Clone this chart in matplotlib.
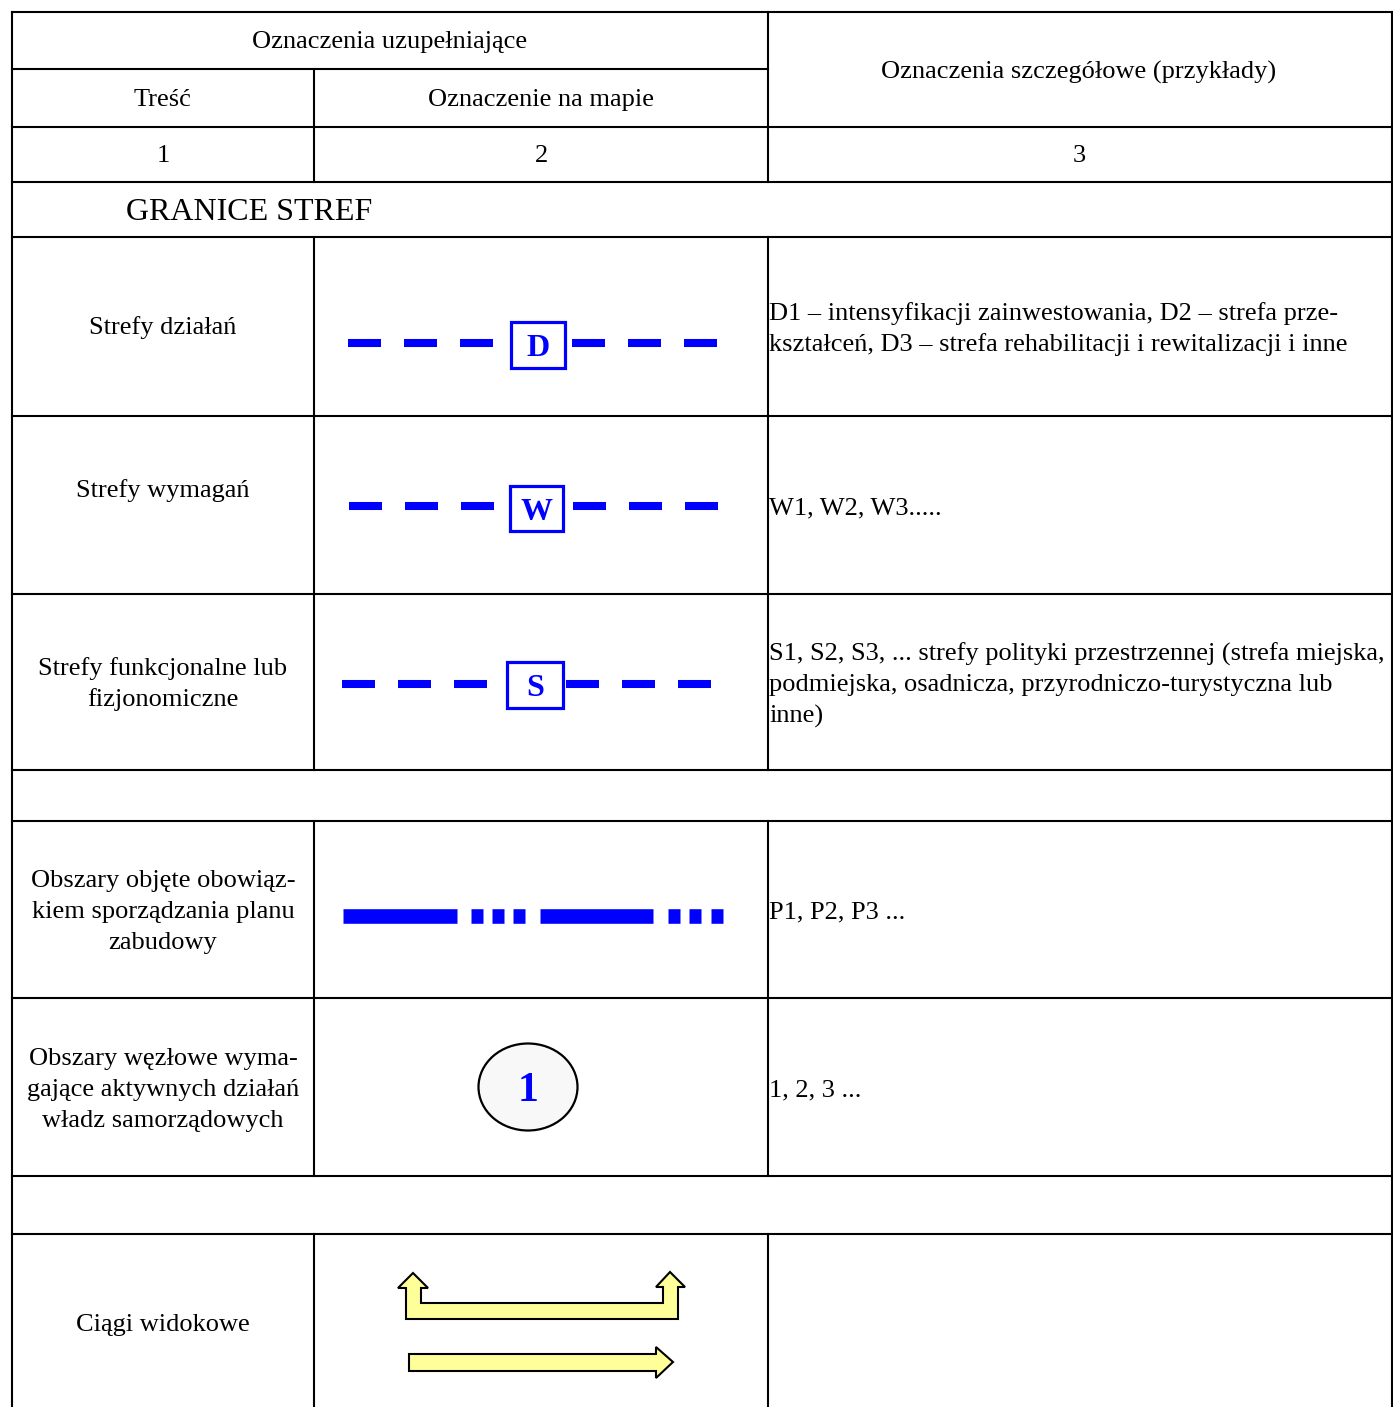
import matplotlib.pyplot as plt
from matplotlib.patches import Rectangle, Ellipse, Polygon

plt.rcParams['font.family'] = ['Liberation Serif', 'DejaVu Serif']

W, H = 1393, 1407
BLUE = '#0000ff'

# table layout (pixels)
x_cols = [12, 314, 768, 1392]
row_y = [12, 69, 127, 182, 237, 416, 594, 770, 821, 998, 1176, 1234, 1407]

# texts
header_top = "Oznaczenia uzupełniające"
header_right = "Oznaczenia szczegółowe (przykłady)"
header_sub = ["Treść", "Oznaczenie na mapie"]
col_numbers = ["1", "2", "3"]
section_title = "GRANICE STREF"

labels = [
    ("Strefy działań", 326),
    ("Strefy wymagań", 489),
    ("Strefy funkcjonalne lub\nfizjonomiczne", 667),
    ("Obszary objęte obowiąz-\nkiem sporządzania planu\nzabudowy", 879),
    ("Obszary węzłowe wyma-\ngające aktywnych działań\nwładz samorządowych", 1057),
    ("Ciągi widokowe", 1323),
]
details = [
    ("D1 – intensyfikacji zainwestowania, D2 – strefa prze-\nkształceń, D3 – strefa rehabilitacji i rewitalizacji i inne", 312),
    ("W1, W2, W3.....", 506),
    ("S1, S2, S3, ... strefy polityki przestrzennej (strefa miejska,\npodmiejska, osadnicza, przyrodniczo-turystyczna lub\ninne)", 652),
    ("P1, P2, P3 ...", 910),
    ("1, 2, 3 ...", 1088),
]

# boxed-letter zone lines: letter, y, dash starts, box (x0, y0, x1, y1)
zone_lines = [
    ("D", 343, [348, 404, 460, 572, 628, 684], (511, 322, 565, 368)),
    ("W", 506, [349, 405, 461, 573, 629, 685], (510, 486, 563, 531)),
    ("S", 684, [342, 398, 454, 566, 622, 678], (507, 662, 563, 708)),
]
dash_len = 33

fig = plt.figure(figsize=(W / 100, H / 100), dpi=100)
ax = fig.add_axes([0, 0, 1, 1])
ax.set_xlim(0, W)
ax.set_ylim(H, 0)
ax.axis('off')

lw = 1.5
def hline(y, x0, x1):
    ax.plot([x0, x1], [y, y], color='black', lw=lw, solid_capstyle='projecting')
def vline(x, y0, y1):
    ax.plot([x, x], [y0, y1], color='black', lw=lw, solid_capstyle='projecting')

# outer + horizontal lines
hline(row_y[0], x_cols[0], x_cols[3])
hline(row_y[1], x_cols[0], x_cols[2])
for y in row_y[2:-1]:
    hline(y, x_cols[0], x_cols[3])
vline(x_cols[0], row_y[0], H)
vline(x_cols[3], row_y[0], H)
# inner verticals
vline(x_cols[1], row_y[1], row_y[3])
vline(x_cols[2], row_y[0], row_y[3])
for a, b in [(4, 7), (8, 10), (11, 12)]:
    vline(x_cols[1], row_y[a], row_y[b])
    vline(x_cols[2], row_y[a], row_y[b])

fs = 19
def mtext(x, y, s, ha='center', size=fs, **kw):
    for i, line in enumerate(s.split('\n')):
        ax.text(x, y + 2 + i * 31, line, ha=ha, va='center', fontsize=size, **kw)

mtext(390, 40, header_top)
mtext(1079, 70, header_right)
mtext(163, 98, header_sub[0])
mtext(541, 98, header_sub[1])
for x, n in zip([163, 541, 1079], col_numbers):
    mtext(x, 154, n)
mtext(126, 210, section_title, ha='left', size=23)

for s, y in labels:
    mtext(163, y, s)
for s, y in details:
    mtext(769, y, s, ha='left')

# zone line symbols
for letter, y, starts, (bx0, by0, bx1, by1) in zone_lines:
    for x in starts:
        ax.plot([x, x + dash_len], [y, y], color=BLUE, lw=5.8, solid_capstyle='butt')
    ax.add_patch(Rectangle((bx0, by0), bx1 - bx0, by1 - by0, fill=False,
                           edgecolor=BLUE, lw=2.3))
    ax.text((bx0 + bx1) / 2, (by0 + by1) / 2 + 4, letter, ha='center', va='center',
            fontsize=23, fontweight='bold', color=BLUE)

# plan-area line: long dashes + squares
p_segments = [(343, 457), (471, 483), (492, 504), (513, 525),
              (540, 653), (668, 680), (689, 701), (711, 723)]
for x0, x1 in p_segments:
    ax.plot([x0, x1], [916, 916], color=BLUE, lw=10.5, solid_capstyle='butt')

# node circle
ax.add_patch(Ellipse((528, 1087), 99, 87, facecolor='#f8f8f8', edgecolor='black', lw=1.6))
ax.text(528, 1091, "1", ha='center', va='center', fontsize=30, fontweight='bold', color=BLUE)

# view arrows
u_arrow = [(406, 1319), (406, 1288), (398, 1288), (413, 1273), (428, 1288), (421, 1288),
           (421, 1303), (663, 1303), (663, 1287), (656, 1287), (670, 1272), (685, 1287),
           (678, 1287), (678, 1319)]
s_arrow = [(409, 1354), (656, 1354), (656, 1347), (673, 1362), (656, 1378),
           (656, 1371), (409, 1371)]
for pts in (u_arrow, s_arrow):
    ax.add_patch(Polygon(pts, closed=True, facecolor='#ffff99', edgecolor='black',
                         lw=1.5, joinstyle='miter'))

fig.savefig('out.png', dpi=100)
